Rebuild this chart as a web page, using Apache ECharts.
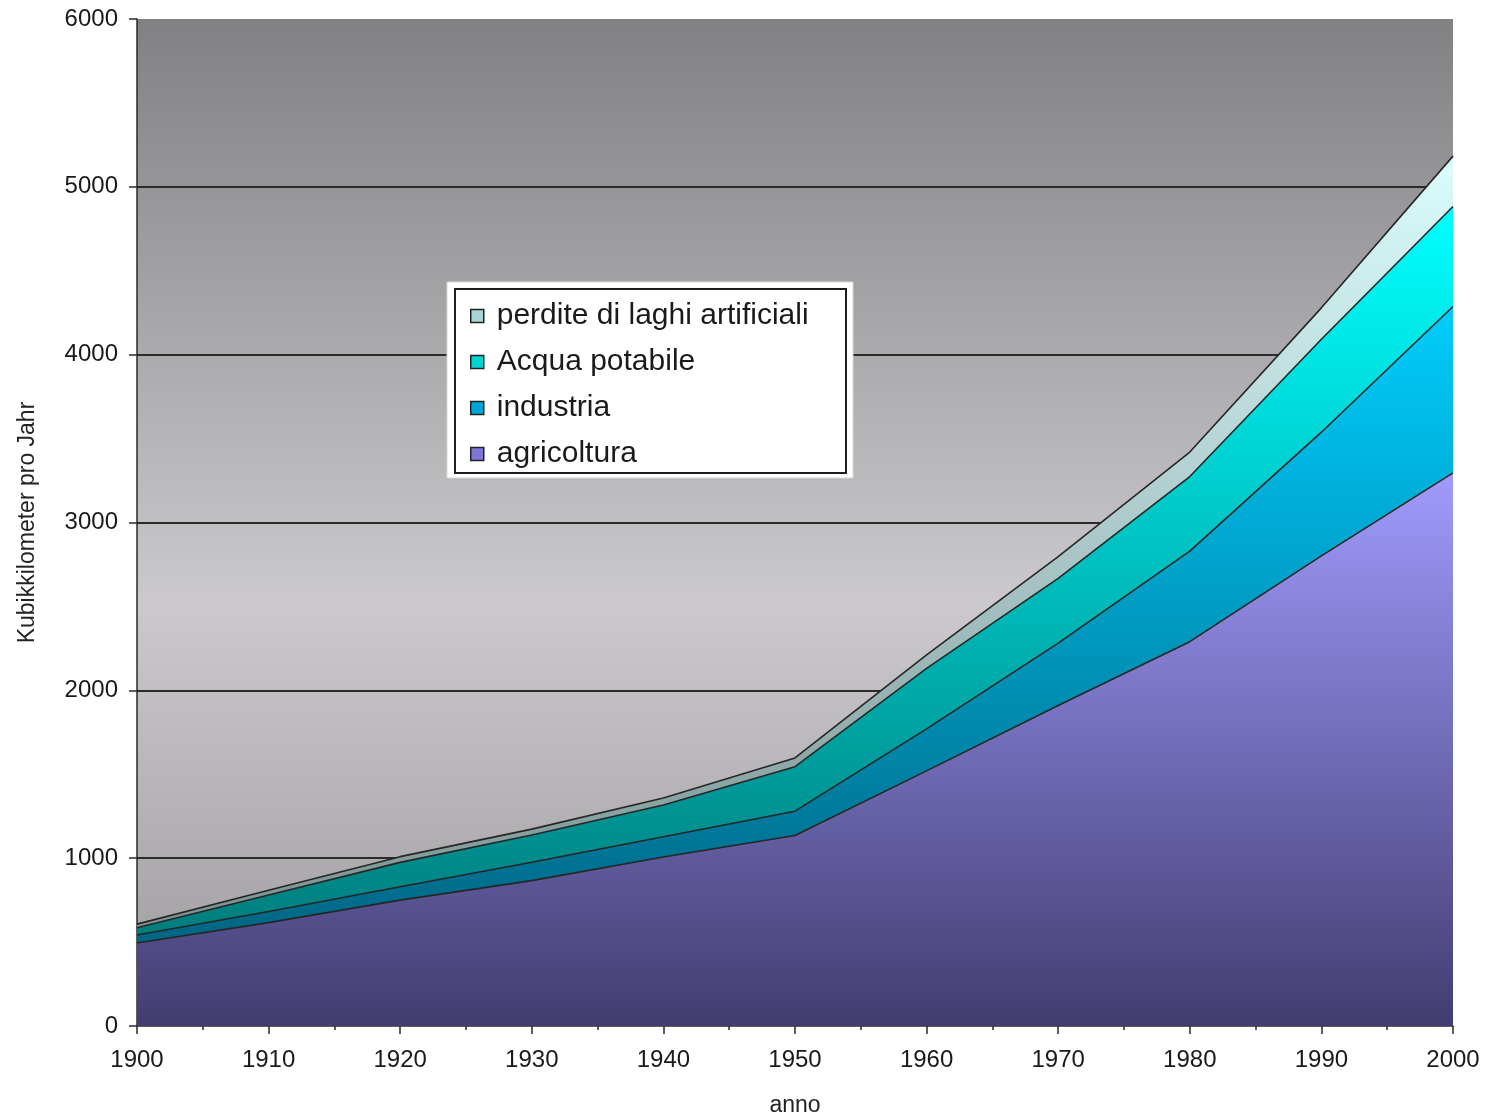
<!DOCTYPE html>
<html>
<head>
<meta charset="utf-8">
<script src="https://cdn.jsdelivr.net/npm/echarts@6/dist/echarts.min.js"></script>
<style>
  html, body { margin: 0; padding: 0; background: #ffffff; }
  #chart { width: 1490px; height: 1117px; }
</style>
</head>
<body>
<div id="chart"></div>
<script>
// Data (km³ per year, each layer stacked on the ones below)
const years = [1900, 1910, 1920, 1930, 1940, 1950, 1960, 1970, 1980, 1990, 2000];
const agricoltura = [495, 616, 750, 866, 1007, 1135, 1520, 1910, 2290, 2801, 3296];
const industria = [47, 66, 80, 110, 121, 145, 250, 371, 540, 737, 991];
const acquaPotabile = [43, 99, 145, 162, 189, 265, 361, 386, 444, 554, 596];
const perditeLaghi = [22, 28, 34, 35, 41, 52, 80, 130, 146, 187, 300];
const yTicks = [0, 1000, 2000, 3000, 4000, 5000, 6000];
const xTicks = [1900, 1910, 1920, 1930, 1940, 1950, 1960, 1970, 1980, 1990, 2000];

const names = {
  perdite: 'perdite di laghi artificiali',
  acqua: 'Acqua potabile',
  industria: 'industria',
  agricoltura: 'agricoltura'
};

const FONT = "'Liberation Sans', Arial, sans-serif";
const chart = echarts.init(document.getElementById('chart'), null, { renderer: 'canvas' });

function grad(top, bottom) {
  return {
    type: 'linear', x: 0, y: 0, x2: 0, y2: 1,
    colorStops: [{ offset: 0, color: top }, { offset: 1, color: bottom }]
  };
}

function areaSeries(name, arr, topC, botC) {
  return {
    name: name,
    type: 'line',
    xAxisIndex: 0,
    stack: 'total',
    symbol: 'none',
    smooth: false,
    data: arr.slice(),
    lineStyle: { color: '#262626', width: 1.6 },
    itemStyle: { color: topC },
    areaStyle: { color: grad(topC, botC), opacity: 1 },
    emphasis: { disabled: true }
  };
}

const option = {
  animation: false,
  backgroundColor: '#ffffff',
  grid: {
    left: 137, right: 37, top: 19, bottom: 91,
    outerBoundsMode: 'none',
    containLabel: false,
    show: true,
    borderWidth: 0,
    backgroundColor: {
      type: 'linear', x: 0, y: 0, x2: 0, y2: 1,
      colorStops: [
        { offset: 0, color: '#818082' },
        { offset: 0.58, color: '#cbc9cb' },
        { offset: 1, color: '#9c9a9c' }
      ]
    }
  },
  xAxis: [
    {
      type: 'category',
      data: years.map(String),
      boundaryGap: false,
      axisLine: { show: false },
      axisTick: { show: false },
      axisLabel: { show: false },
      splitLine: { show: false }
    },
    {
      type: 'value',
      position: 'bottom',
      min: xTicks[0], max: xTicks[xTicks.length - 1], interval: 10,
      name: 'anno',
      nameLocation: 'middle',
      nameGap: 68,
      nameTextStyle: { fontFamily: FONT, fontSize: 23, color: '#222' },
      axisLine: { show: true, lineStyle: { color: '#2a2a2a', width: 1.5 } },
      axisTick: { show: true, length: 8, lineStyle: { color: '#2a2a2a', width: 1.5 } },
      minorTick: { show: true, splitNumber: 2, length: 4, lineStyle: { color: '#2a2a2a', width: 1.5 } },
      axisLabel: { fontFamily: FONT, fontSize: 24, color: '#1a1a1a', margin: 22, formatter: v => String(v) },
      splitLine: { show: false }
    }
  ],
  yAxis: {
    type: 'value',
    min: yTicks[0], max: yTicks[yTicks.length - 1], interval: 1000,
    name: 'Kubikkilometer pro Jahr',
    nameLocation: 'middle',
    nameRotate: 90,
    nameGap: 98,
    nameTextStyle: { fontFamily: FONT, fontSize: 23, color: '#222' },
    axisLine: { show: true, lineStyle: { color: '#2a2a2a', width: 1.5 } },
    axisTick: { show: true, length: 8, lineStyle: { color: '#2a2a2a', width: 1.5 } },
    axisLabel: { fontFamily: FONT, fontSize: 24, color: '#1a1a1a', margin: 19, formatter: v => String(v) },
    splitLine: { show: true, showMinLine: false, showMaxLine: false, lineStyle: { color: '#2b2b2b', width: 2 } }
  },
  graphic: [
    { type: 'rect', z: 10, shape: { x: 447, y: 282, width: 406, height: 196 },
      style: { fill: '#ffffff', stroke: '#d8d8d8', lineWidth: 1 } },
    { type: 'rect', z: 11, shape: { x: 455, y: 289, width: 391, height: 184 },
      style: { fill: '#ffffff', stroke: '#1e1e1e', lineWidth: 2 } }
  ],
  legend: {
    z: 20,
    orient: 'vertical',
    left: 455, top: 289,
    padding: [12, 10, 8, 15],
    itemWidth: 13, itemHeight: 13,
    itemGap: 16,
    icon: 'rect',
    textStyle: { fontFamily: FONT, fontSize: 30, color: '#1a1a1a', lineHeight: 30, padding: [0, 0, 0, 8] },
    selectedMode: false,
    data: [
      { name: names.perdite, itemStyle: { color: '#a9d4d4', borderColor: '#222', borderWidth: 1.5 } },
      { name: names.acqua, itemStyle: { color: '#00d4d4', borderColor: '#222', borderWidth: 1.5 } },
      { name: names.industria, itemStyle: { color: '#00a6d6', borderColor: '#222', borderWidth: 1.5 } },
      { name: names.agricoltura, itemStyle: { color: '#7e76d6', borderColor: '#222', borderWidth: 1.5 } }
    ]
  },
  series: [
    areaSeries(names.agricoltura, agricoltura, '#a09afd', '#423d70'),
    areaSeries(names.industria, industria, '#00cdfd', '#006684'),
    areaSeries(names.acqua, acquaPotabile, '#00ffff', '#007e7e'),
    areaSeries(names.perdite, perditeLaghi, '#dcfdfd', '#7a9292')
  ]
};

chart.setOption(option);
</script>
</body>
</html>
